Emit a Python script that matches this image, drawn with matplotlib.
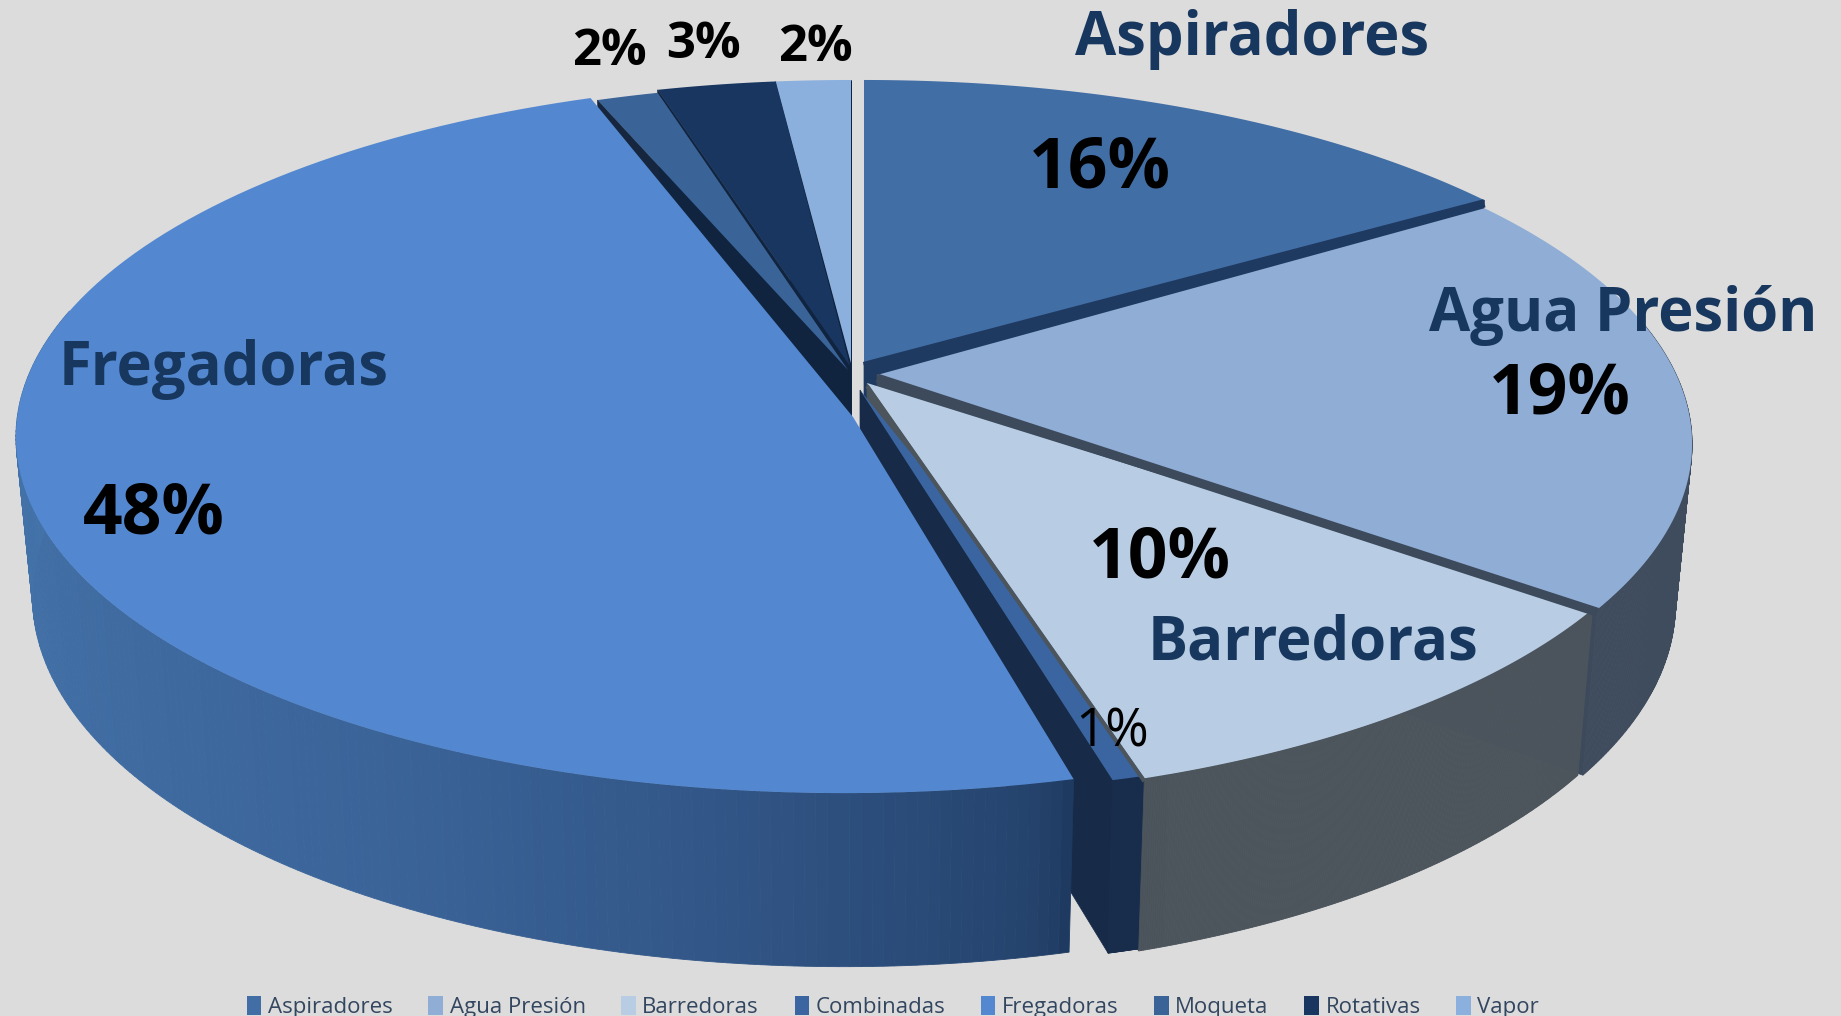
import numpy as np
import matplotlib
matplotlib.use("Agg")
import matplotlib.pyplot as plt
from matplotlib.patches import Polygon, Patch
from matplotlib.colors import to_rgb

categorias = ["Aspiradores", "Agua Presión", "Barredoras", "Combinadas",
              "Fregadoras", "Moqueta", "Rotativas", "Vapor"]
valores = [15.5, 19.3, 10.3, 0.96, 47.84, 1.4, 2.7, 1.7]
etiquetas_pct = ["16%", "19%", "10%", "1%", "48%", "2%", "3%", "2%"]

colores = ["#426ea6", "#8fadd5", "#b8cde4", "#3a65a0", "#5388d0", "#3a6397", "#183660", "#8cb0de"]
# pared exterior: color por fraccion del arco
pared = [["#2f5080"], ["#3f4c5e"], ["#4c545c"], ["#182c4c"],
         ["#1e3a60", "#2b4c7a", "#3b6499", "#4372a9", "#4a7ab3"],
         ["#1a2e50"], ["#122848"], ["#5f7fa8"]]
corte = ["#1f3a60", "#3c4a5c", "#4c545c", "#172a48", "#1e3a62", "#16263f", "#102440", "#102440"]
# desplazamientos en pixeles (borde y vertice de cada porcion)
borde = [(8, 0), (8, 8), (3, 8), (27, 2), (-12, 1), (-5, 3), (-5, 0), (-5, 0)]
vertice = [(8, -15), (21, -3), (11, 5), (4, 12), (-3, 39), (-8, -8), (-6, -12), (-5, -15)]
# Combinadas queda por debajo de Barredoras
orden = [0, 1, 3, 2, 4, 5, 6, 7]

cx, cy = 856, 378
rx, ry = 817, 346.6
k = 0.163
sx_base, sy_base, dz = 0.98, 1.04, 157


def proy(t, r=1.0, abajo=False):
    X = r*np.sin(t)
    Y = r*np.cos(t)
    w = 1/(1 + k*Y)
    if abajo:
        return rx*sx_base*X*w, -ry*sy_base*Y*w + dz
    return rx*X*w, -ry*Y*w


def mezcla(cols, f):
    cols = np.array([to_rgb(c) for c in cols])
    if len(cols) == 1:
        return tuple(cols[0])
    pos = np.linspace(0, 1, len(cols))
    return tuple(np.interp(f, pos, cols[:, j]) for j in range(3))


fig = plt.figure(figsize=(18.41, 10.16), dpi=100, facecolor="#dcdcdc")
ax = fig.add_axes([0, 0, 1, 1])
ax.set_xlim(0, 1841)
ax.set_ylim(1016, 0)
ax.axis("off")

fin = np.cumsum(valores)/np.sum(valores)*2*np.pi
ini = np.concatenate([[0], fin[:-1]])

# caras de corte
for i in range(len(valores)):
    bx, by = borde[i]
    vx, vy = vertice[i]
    for t, visible in ((fin[i], np.sin(fin[i]) > 0), (ini[i], np.sin(ini[i]) < 0)):
        if not visible:
            continue
        x1, y1 = proy(t)
        x2, y2 = proy(t, abajo=True)
        pts = [(cx+vx, cy+vy), (cx+bx+x1, cy+by+y1), (cx+bx+x2, cy+by+y2), (cx+vx, cy+vy+dz)]
        ax.add_patch(Polygon(pts, fc=corte[i], ec=corte[i], lw=0.5, zorder=2))

# paredes exteriores
for i in orden:
    bx, by = borde[i]
    ts = np.linspace(ini[i], fin[i], 260)
    for j in range(len(ts)-1):
        if np.cos((ts[j]+ts[j+1])/2) > 0.2:
            continue
        x1, y1 = proy(ts[j])
        x2, y2 = proy(ts[j+1])
        x3, y3 = proy(ts[j+1], abajo=True)
        x4, y4 = proy(ts[j], abajo=True)
        f = (j/(len(ts)-2))**0.5
        c = mezcla(pared[i], f)
        pts = [(cx+bx+x1, cy+by+y1), (cx+bx+x2, cy+by+y2), (cx+bx+x3, cy+by+y3), (cx+bx+x4, cy+by+y4)]
        ax.add_patch(Polygon(pts, fc=c, ec=c, lw=0.6, zorder=3))

# caras superiores
for i in orden:
    bx, by = borde[i]
    vx, vy = vertice[i]
    ts = np.linspace(ini[i], fin[i], 120)
    x, y = proy(ts)
    pts = [(cx+vx, cy+vy)] + list(zip(cx+bx+x, cy+by+y))
    ax.add_patch(Polygon(pts, fc=colores[i], ec="none", zorder=4))

# filos oscuros entre porciones
for i, grosor in ((0, 6), (1, 6.5), (2, 3)):
    x1, y1 = proy(fin[i])
    ax.plot([cx+vertice[i][0], cx+borde[i][0]+x1], [cy+vertice[i][1]+3, cy+borde[i][1]+y1+3],
            color=corte[i], lw=grosor, zorder=5, solid_capstyle="butt")

fuente = "Open Sans"
navy = "#17375e"
ax.text(1252, 40, "Aspiradores", fontsize=43, fontweight="bold", color=navy, family=fuente, ha="center", va="center", zorder=6)
ax.text(1623, 316, "Agua Presión", fontsize=43, fontweight="bold", color=navy, family=fuente, ha="center", va="center", zorder=6)
ax.text(1313, 644, "Barredoras", fontsize=43, fontweight="bold", color=navy, family=fuente, ha="center", va="center", zorder=6)
ax.text(224, 369, "Fregadoras", fontsize=43, fontweight="bold", color=navy, family=fuente, ha="center", va="center", zorder=6)

pos_pct = [(1100, 170), (1560, 395), (1160, 559), (1112, 733), (154, 515), (609, 52), (703, 45), (815, 48)]
tam_pct = [50, 50, 50, 38, 50, 36.5, 36.5, 36.5]
for i in range(len(valores)):
    peso = "normal" if etiquetas_pct[i] == "1%" else "bold"
    ax.text(pos_pct[i][0], pos_pct[i][1], etiquetas_pct[i], fontsize=tam_pct[i], fontweight=peso,
            color="black", family=fuente, ha="center", va="center", zorder=6)

handles = [Patch(fc=c, ec="none") for c in colores]
ax.legend(handles, categorias, ncol=8, loc="center", bbox_to_anchor=(893/1841, 1-1007/1016),
          frameon=False, handlelength=0.65, handleheight=0.9, handletextpad=0.3,
          columnspacing=1.6, labelcolor="#33465f", prop={"family": fuente, "size": 16})

fig.savefig("out.png", dpi=100, facecolor=fig.get_facecolor())
